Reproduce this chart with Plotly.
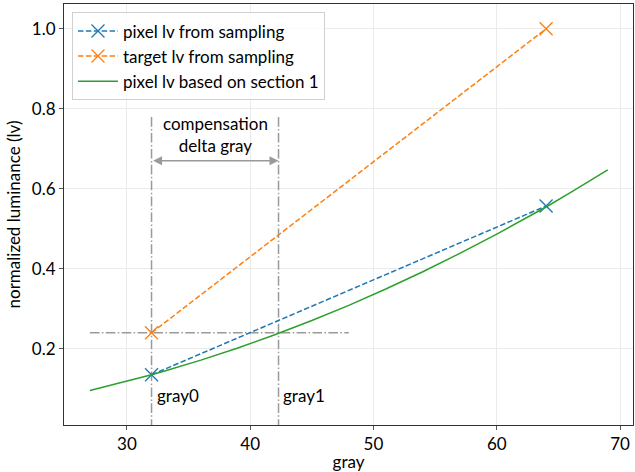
import plotly.graph_objects as go

# ---- data ----
sample_gray = [32, 64]
pixel_lv_sampled = [0.135, 0.557]
target_lv_sampled = [0.24, 1.0]

curve_gray = [27, 30, 32, 33, 36, 39, 42, 45, 48, 51, 54, 57, 60, 63, 64, 66, 69]
curve_lv = [0.0955, 0.1183, 0.135, 0.1437, 0.1717, 0.2021, 0.2351, 0.2706, 0.3087,
            0.3494, 0.3926, 0.4384, 0.4867, 0.5376, 0.5545, 0.5911, 0.6473]

gray0 = 32
gray1 = 42.3
target_level = 0.24
hline_x = [27, 48]
vline_y = [0.0, 0.78]
arrow_y = 0.67
text_y = 0.735
label_y = 0.083

x_ticks = [30, 40, 50, 60, 70]
y_ticks = [0.2, 0.4, 0.6, 0.8, 1.0]
y_ticklabels = ["0.2", "0.4", "0.6", "0.8", "1.0"]

FONT = "Lato, 'Open Sans', sans-serif"
FS = 17
BLUE = "#1f77b4"
ORANGE = "#ff7f0e"
GREEN = "#2ca02c"
GRAY = "#9a9a9a"
DASH = "5.5px,2.4px"
DASHDOT = "9.6px,2.4px,1.5px,2.4px"

fig = go.Figure()

# reference guide lines (dash-dot)
fig.add_trace(go.Scatter(x=hline_x, y=[target_level, target_level], mode="lines",
                         line=dict(color=GRAY, width=1.5, dash=DASHDOT),
                         showlegend=False, hoverinfo="skip"))
for gx in (gray0, gray1):
    fig.add_trace(go.Scatter(x=[gx, gx], y=vline_y, mode="lines",
                             line=dict(color=GRAY, width=1.5, dash=DASHDOT),
                             showlegend=False, hoverinfo="skip"))

fig.add_trace(go.Scatter(x=sample_gray, y=pixel_lv_sampled, mode="lines+markers",
                         name="pixel lv from sampling",
                         line=dict(color=BLUE, width=1.5, dash=DASH),
                         marker=dict(symbol="x-thin", size=13,
                                     line=dict(color=BLUE, width=1.3))))
fig.add_trace(go.Scatter(x=sample_gray, y=target_lv_sampled, mode="lines+markers",
                         name="target lv from sampling",
                         line=dict(color=ORANGE, width=1.5, dash=DASH),
                         marker=dict(symbol="x-thin", size=13,
                                     line=dict(color=ORANGE, width=1.3))))
fig.add_trace(go.Scatter(x=curve_gray, y=curve_lv, mode="lines",
                         name="pixel lv based on section 1",
                         line=dict(color=GREEN, width=1.5)))

# double arrow
fig.add_annotation(x=gray1, y=arrow_y, ax=gray0, ay=arrow_y, xref="x", yref="y",
                   axref="x", ayref="y", text="", showarrow=True,
                   arrowhead=2, startarrowhead=2, arrowside="end+start",
                   arrowsize=1.2, startarrowsize=1.2, arrowwidth=1.5, arrowcolor=GRAY)
fig.add_annotation(x=(gray0 + gray1) / 2, y=text_y, xref="x", yref="y",
                   text="compensation<br>delta gray", showarrow=False,
                   font=dict(family=FONT, size=FS, color="#000"))
fig.add_annotation(x=gray0 + 0.3, y=label_y, xref="x", yref="y", text="gray0",
                   showarrow=False, xanchor="left",
                   font=dict(family=FONT, size=FS, color="#000"))
fig.add_annotation(x=gray1 + 0.2, y=label_y, xref="x", yref="y", text="gray1",
                   showarrow=False, xanchor="left",
                   font=dict(family=FONT, size=FS, color="#000"))

axis_common = dict(showline=True, mirror=True, linecolor="#333", linewidth=1,
                   ticks="outside", ticklen=4, tickcolor="#555",
                   showgrid=True, gridcolor="#ebebeb", gridwidth=1, zeroline=False,
                   automargin=False,
                   tickfont=dict(family=FONT, size=FS, color="#000"))

fig.update_xaxes(range=[24.9, 71.05], tickvals=x_ticks,
                 title=dict(text="gray", font=dict(family=FONT, size=FS, color="#000"),
                            standoff=4),
                 **axis_common)
fig.update_yaxes(range=[0.0095, 1.062], tickvals=y_ticks, ticktext=y_ticklabels,
                 title=dict(text="normalized luminance (lv)",
                            font=dict(family=FONT, size=FS, color="#000"), standoff=6),
                 **axis_common)

fig.update_layout(
    width=635, height=472,
    margin=dict(l=64, r=2, t=4, b=47),
    plot_bgcolor="white", paper_bgcolor="white",
    font=dict(family=FONT, size=FS, color="#000"),
    legend=dict(x=0.014, y=0.98, xanchor="left", yanchor="top",
                bgcolor="rgba(255,255,255,0.8)", bordercolor="#d0d0d0", borderwidth=1,
                font=dict(family=FONT, size=FS), tracegroupgap=0, itemwidth=40),
)

fig.write_html("out.html", config={"displayModeBar": False},
               post_script="document.body.style.margin='0px';")
